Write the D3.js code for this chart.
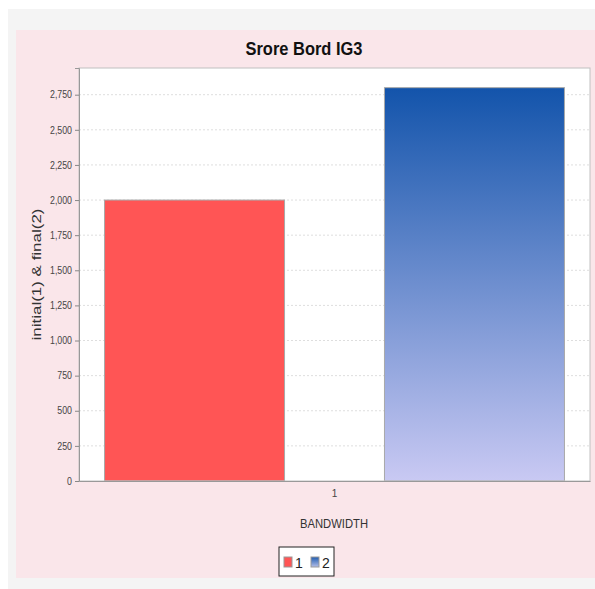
<!DOCTYPE html>
<html>
<head>
<meta charset="utf-8">
<script src="https://cdn.jsdelivr.net/npm/d3@7"></script>
<style>
  body { margin: 0; background: #fff; }
  svg text { font-family: "Liberation Sans Narrow", "Liberation Sans", Arial, sans-serif; }
</style>
</head>
<body>
<svg></svg>
<script>
// data
const categories = ["1"];
const series = ["1", "2"];
const values = [2000, 2800];
const yTicks = [0, 250, 500, 750, 1000, 1250, 1500, 1750, 2000, 2250, 2500, 2750];

const W = 595, H = 589;
const svg = d3.select("svg").attr("width", W).attr("height", H);

// panels
svg.append("rect").attr("x", 8).attr("y", 9).attr("width", W - 8).attr("height", H - 9).attr("fill", "#f4f4f4");
svg.append("rect").attr("x", 16).attr("y", 30).attr("width", W - 16).attr("height", 548).attr("fill", "#fae6ea");

const plot = { left: 79, top: 68, right: 590, bottom: 481 };

const y = d3.scaleLinear()
    .domain([0, d3.max(values) * 1.05])
    .range([plot.bottom, plot.top]);

const xCat = d3.scaleBand()
    .domain(categories)
    .range([plot.left, plot.right]);

const xSeries = d3.scaleBand()
    .domain(series)
    .range([plot.left + (plot.right - plot.left) * 0.05, plot.right - (plot.right - plot.left) * 0.05])
    .paddingInner(0.357);

// plot background
svg.append("rect")
    .attr("x", plot.left).attr("y", plot.top)
    .attr("width", plot.right - plot.left).attr("height", plot.bottom - plot.top)
    .attr("fill", "#fff");

// grid
svg.append("g")
  .selectAll("line")
  .data(yTicks.slice(1))
  .join("line")
    .attr("x1", plot.left).attr("x2", plot.right)
    .attr("y1", d => y(d)).attr("y2", d => y(d))
    .attr("stroke", "#dedede")
    .attr("stroke-dasharray", "2,2");

// gradient for series 2
const defs = svg.append("defs");
const grad = defs.append("linearGradient")
    .attr("id", "blueGrad")
    .attr("x1", 0).attr("y1", 0).attr("x2", 0).attr("y2", 1);
grad.append("stop").attr("offset", "0%").attr("stop-color", "#1354ab");
grad.append("stop").attr("offset", "100%").attr("stop-color", "#c9c9f3");

const legGrad = defs.append("linearGradient")
    .attr("id", "legGrad")
    .attr("x1", 0).attr("y1", 0).attr("x2", 0).attr("y2", 1);
legGrad.append("stop").attr("offset", "0%").attr("stop-color", "#1f5cb0");
legGrad.append("stop").attr("offset", "100%").attr("stop-color", "#b5bfe8");

const fills = ["#ff5555", "url(#blueGrad)"];

// bars
svg.append("g")
  .selectAll("rect")
  .data(values)
  .join("rect")
    .attr("x", (d, i) => xSeries(series[i]))
    .attr("y", d => y(d))
    .attr("width", xSeries.bandwidth())
    .attr("height", d => plot.bottom - y(d))
    .attr("fill", (d, i) => fills[i])
    .attr("stroke", "#a8a8a8")
    .attr("stroke-width", 1);

// plot border
svg.append("rect")
    .attr("x", plot.left).attr("y", plot.top)
    .attr("width", plot.right - plot.left).attr("height", plot.bottom - plot.top)
    .attr("fill", "none")
    .attr("stroke", "#c0c0c0");

// y axis
const yAxis = svg.append("g")
    .attr("transform", `translate(${plot.left},0)`)
    .call(d3.axisLeft(y).tickValues(yTicks).tickSize(4).tickPadding(3).tickFormat(d3.format(",")));
yAxis.select(".domain").attr("stroke", "#999");
yAxis.selectAll(".tick line").attr("stroke", "#888");
yAxis.selectAll("text")
    .attr("font-size", 10).attr("fill", "#444")
    .attr("textLength", function () { return this.getComputedTextLength() * 0.88; })
    .attr("lengthAdjust", "spacingAndGlyphs");

// x axis
const xAxis = svg.append("g")
    .attr("transform", `translate(0,${plot.bottom})`)
    .call(d3.axisBottom(xCat).tickSize(0).tickPadding(9));
xAxis.select(".domain").attr("stroke", "#999");
xAxis.selectAll("text").attr("font-size", 10).attr("fill", "#444");

// title
svg.append("text")
    .attr("x", 304).attr("y", 55)
    .attr("text-anchor", "middle")
    .attr("font-size", 19).attr("font-weight", "bold")
    .attr("fill", "#111")
    .attr("textLength", 117).attr("lengthAdjust", "spacingAndGlyphs")
    .text("Srore Bord IG3");

// axis labels
svg.append("text")
    .attr("transform", `translate(41,${(plot.top + plot.bottom) / 2}) rotate(-90)`)
    .attr("text-anchor", "middle")
    .attr("font-size", 13).attr("fill", "#333")
    .attr("textLength", 132).attr("lengthAdjust", "spacingAndGlyphs")
    .text("initial(1) & final(2)");

svg.append("text")
    .attr("x", 334).attr("y", 528)
    .attr("text-anchor", "middle")
    .attr("font-size", 12).attr("fill", "#333")
    .attr("textLength", 68).attr("lengthAdjust", "spacingAndGlyphs")
    .text("BANDWIDTH");

// legend
const leg = svg.append("g").attr("transform", "translate(279,547)");
leg.append("rect").attr("width", 55).attr("height", 29).attr("fill", "#fff").attr("stroke", "#222");
const legFills = ["#ff5555", "url(#legGrad)"];
series.forEach((s, i) => {
  leg.append("rect")
    .attr("x", 5 + i * 27).attr("y", 10).attr("width", 8).attr("height", 10)
    .attr("fill", legFills[i]).attr("stroke", "#999");
  leg.append("text")
    .attr("x", 16 + i * 27).attr("y", 20.5)
    .attr("font-size", 14).attr("fill", "#222")
    .text(s);
});
</script>
</body>
</html>
